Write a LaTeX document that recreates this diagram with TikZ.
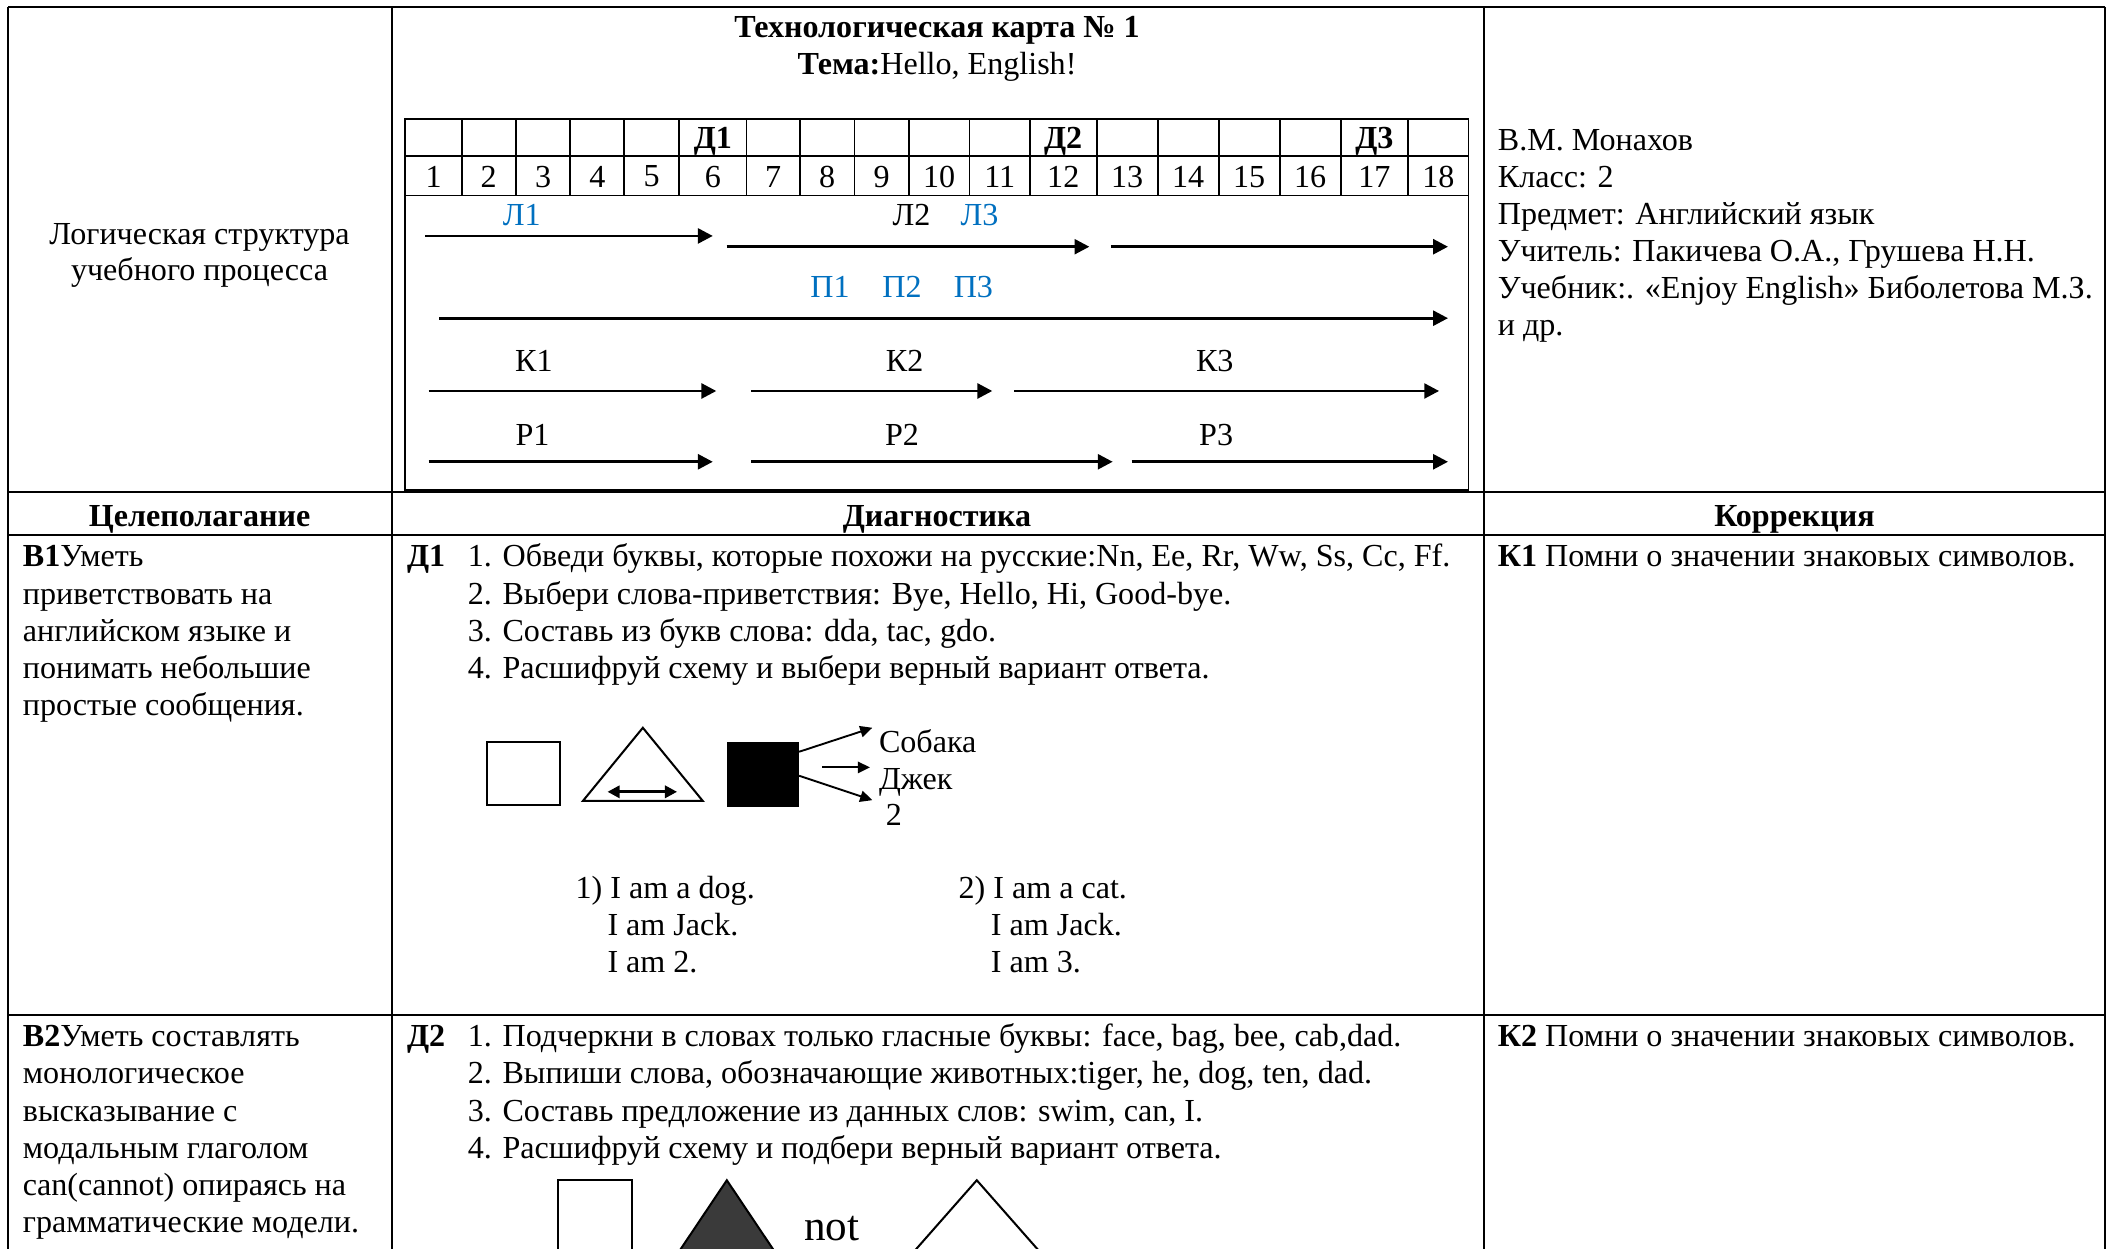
\documentclass[tikz,border=0pt]{standalone}
\usepackage{fontspec}
\setmainfont{Liberation Serif}
\usetikzlibrary{arrows.meta}
\definecolor{wblue}{HTML}{0070C0}
\definecolor{dgray}{HTML}{3A3A3A}
\begin{document}
\begin{tikzpicture}[x=0.5pt,y=-0.5pt,
  every node/.style={inner sep=0pt, outer sep=0pt},
  font=\fontsize{11.9pt}{13.75pt}\selectfont,
  rule/.style={line width=0.7pt},
  lt/.style={anchor=base west, yshift=-0.75pt},
  ct/.style={anchor=base, yshift=-0.75pt},
  cc/.style={anchor=center},
  bl/.style={cc, text=wblue},
  bf/.style={font=\fontsize{11.9pt}{13.75pt}\selectfont\bfseries},
  tarrow/.style={line width=1.05pt,-{Triangle[length=5.5pt,width=5.5pt]}},
  sarrow/.style={line width=0.7pt,-{Triangle[length=4.5pt,width=4.2pt]}},
  shp/.style={line width=0.75pt},
]
\fill[white] (0,0) rectangle (1568,926);
\begin{scope}
\clip (0,0) rectangle (1568,926);
% ---------- outer table ----------
\draw[rule] (6,5) -- (1561,5);
\draw[rule] (6,5) -- (6,940);
\draw[rule] (1561,5) -- (1561,940);
\draw[rule] (291,5) -- (291,940);
\draw[rule] (1101,5) -- (1101,940);
\draw[rule] (6,365) -- (1561,365);
\draw[rule] (6,397) -- (1561,397);
\draw[rule] (6,753) -- (1561,753);
% ---------- title ----------
\node[ct,bf] (title) at (695,26.5) {Технологическая карта № 1};
\node[ct] (theme) at (695,54) {\textbf{Тема:}Hello, English!};
% ---------- left top cell ----------
\node[ct] (ls1) at (148,180) {Логическая структура};
\node[ct] (ls2) at (148,206.5) {учебного процесса};
% ---------- right top cell ----------
\node[lt] (r1) at (1111,110) {В.М. Монахов};
\node[lt] (r2) at (1111,137.5) {Класс: 2};
\node[lt] (r3) at (1111,165) {Предмет: Английский язык};
\node[lt] (r4) at (1111,192.5) {Учитель: Пакичева О.А., Грушева Н.Н.};
\node[lt] (r5) at (1111,220) {Учебник:. «Enjoy English» Биболетова М.З.};
\node[lt] (r6) at (1111,247.5) {и др.};
% ---------- inner table ----------
\draw[rule] (300.7,88) rectangle (1089.2,363.5);
\draw[rule] (300.7,116) -- (1089.2,116);
\draw[rule] (300.7,145) -- (1089.2,145);
\foreach \xx in {342.4,382.5,423.1,463.1,503.7,553.7,593.2,633.8,673.9,719.1,763.9,813.4,858.7,903.9,949.2,994.4,1044.4}
  \draw[rule] (\xx,88) -- (\xx,145);
\foreach \a/\b/\n in {300.7/342.4/1,342.4/382.5/2,382.5/423.1/3,423.1/463.1/4,463.1/503.7/5,503.7/553.7/6,553.7/593.2/7,593.2/633.8/8,633.8/673.9/9,673.9/719.1/10,719.1/763.9/11,763.9/813.4/12,813.4/858.7/13,858.7/903.9/14,903.9/949.2/15,949.2/994.4/16,994.4/1044.4/17,1044.4/1089.2/18}
  \node[cc] (n\n) at ({(\a+\b)/2},131) {\n};
\node[ct,bf] (d1) at (528.7,109) {Д1};
\node[ct,bf] (d2) at (788.6,109) {Д2};
\node[ct,bf] (d3) at (1019.4,109) {Д3};
% ---------- timeline labels ----------
\node[bl] (l1) at (387,159.5) {Л1};
\node[cc] (l2) at (676,159.5) {Л2};
\node[bl] (l3) at (726.5,159.5) {Л3};
\node[bl] (p1) at (615.6,213) {П1};
\node[bl] (p2) at (669,213) {П2};
\node[bl] (p3) at (722,213) {П3};
\node[cc] (k1) at (396,268) {К1};
\node[cc] (k2) at (671,268) {К2};
\node[cc] (k3) at (901,268) {К3};
\node[cc] (r1l) at (395,322.7) {Р1};
\node[cc] (r2l) at (669,322.7) {Р2};
\node[cc] (r3l) at (902,322.7) {Р3};
% ---------- timeline arrows ----------
\coordinate (la1) at (315.3,175);  \coordinate (lb1) at (528.7,175);
\coordinate (la2) at (539,183);    \coordinate (lb2) at (808,183);
\coordinate (la3) at (824,183);    \coordinate (lb3) at (1074,183);
\coordinate (pa) at (325.7,236);   \coordinate (pb) at (1074,236);
\coordinate (ka1) at (318,290);    \coordinate (kb1) at (531.3,290);
\coordinate (ka2) at (557.3,290);  \coordinate (kb2) at (736,290);
\coordinate (ka3) at (752.4,290);  \coordinate (kb3) at (1067.4,290);
\coordinate (ra1) at (318,342.5);  \coordinate (rb1) at (528.7,342.5);
\coordinate (ra2) at (557.3,342.5);\coordinate (rb2) at (825.3,342.5);
\coordinate (ra3) at (839.4,342.5);\coordinate (rb3) at (1074,342.5);
\draw[tarrow] (la1) -- (lb1);
\draw[tarrow] (la2) -- (lb2);
\draw[tarrow] (la3) -- (lb3);
\draw[tarrow] (pa) -- (pb);
\draw[tarrow] (ka1) -- (kb1);
\draw[tarrow] (ka2) -- (kb2);
\draw[tarrow] (ka3) -- (kb3);
\draw[tarrow] (ra1) -- (rb1);
\draw[tarrow] (ra2) -- (rb2);
\draw[tarrow] (ra3) -- (rb3);
% ---------- header row ----------
\node[ct,bf] (h1) at (148,389) {Целеполагание};
\node[ct,bf] (h2) at (695,389) {Диагностика};
\node[ct,bf] (h3) at (1331,389) {Коррекция};
% ---------- row 1 ----------
\node[lt] (a1) at (17,419) {\textbf{В1}Уметь};
\node[lt] (a2) at (17,446.5) {приветствовать на};
\node[lt] (a3) at (17,474) {английском языке и};
\node[lt] (a4) at (17,501.5) {понимать небольшие};
\node[lt] (a5) at (17,529) {простые сообщения.};
\node[lt] (dd1) at (302,419) {\textbf{Д1}};
\node[lt] (q1) at (347,419) {1. Обведи буквы, которые похожи на русские:Nn, Ee, Rr, Ww, Ss, Cc, Ff.};
\node[lt] (q2) at (347,446.5) {2. Выбери слова-приветствия: Bye, Hello, Hi, Good-bye.};
\node[lt] (q3) at (347,474) {3. Составь из букв слова: dda, tac, gdo.};
\node[lt] (q4) at (347,501.5) {4. Расшифруй схему и выбери верный вариант ответа.};
\node[lt] (kk1) at (1111,419) {\textbf{К1} Помни о значении знаковых символов.};
% diagram 1
\draw[shp] (361.2,550.2) rectangle (415.1,597.2);
\draw[shp] (476.8,539.8) -- (432.4,594) -- (521.2,594) -- cycle;
\coordinate (dl) at (450.6,587.3); \coordinate (dr) at (502.2,587.3);
\draw[line width=1.1pt,{Triangle[length=4.5pt,width=4.5pt]}-{Triangle[length=4.5pt,width=4.5pt]}] (dl) -- (dr);
\node[fill=black, minimum width=26.7pt, minimum height=24.3pt, anchor=north west] (bsq) at (539.3,550.2) {};
\node[lt] (sob) at (652,556.5) {Собака};
\node[lt] (jek) at (652,584) {Джек};
\node[ct] (two) at (663,610.5) {2};
\coordinate (e1) at (647,539.8);
\coordinate (s2) at (609.9,569.2); \coordinate (e2) at (645.3,569.2);
\coordinate (e3) at (647,593.5);
\draw[sarrow] (bsq.north east |- 0,557.6) -- (e1);
\draw[sarrow] (s2) -- (e2);
\draw[sarrow] (bsq.north east |- 0,575.4) -- (e3);
\node[lt] (o11) at (427,665) {1) I am a dog.};
\node[lt] (o12) at (450.6,692.5) {I am Jack.};
\node[lt] (o13) at (450.6,720) {I am 2.};
\node[lt] (o21) at (711,665) {2) I am a cat.};
\node[lt] (o22) at (735,692.5) {I am Jack.};
\node[lt] (o23) at (735,720) {I am 3.};
% ---------- row 2 ----------
\node[lt] (b1) at (17,775) {\textbf{В2}Уметь составлять};
\node[lt] (b2) at (17,802.5) {монологическое};
\node[lt] (b3) at (17,830) {высказывание с};
\node[lt] (b4) at (17,857.5) {модальным глаголом};
\node[lt] (b5) at (17,885) {can(cannot) опираясь на};
\node[lt] (b6) at (17,912.5) {грамматические модели.};
\node[lt] (dd2) at (302,775) {\textbf{Д2}};
\node[lt] (w1) at (347,775) {1. Подчеркни в словах только гласные буквы: face, bag, bee, cab,dad.};
\node[lt] (w2) at (347,802.5) {2. Выпиши слова, обозначающие животных:tiger, he, dog, ten, dad.};
\node[lt] (w3) at (347,830) {3. Составь предложение из данных слов: swim, can, I.};
\node[lt] (w4) at (347,857.5) {4. Расшифруй схему и подбери верный вариант ответа.};
\node[lt] (kk2) at (1111,775) {\textbf{К2} Помни о значении знаковых символов.};
% diagram 2
\draw[shp] (414.2,960) -- (414.2,875.4) -- (468.8,875.4) -- (468.8,960);
\fill[dgray] (539.1,875.4) -- (595.8,960) -- (482.4,960) -- cycle;
\draw[shp] (539.1,875.4) -- (595.8,960) -- (482.4,960) -- cycle;
\node[cc,font=\fontsize{16pt}{18pt}\selectfont] (nt) at (617,911) {not};
\draw[shp] (650,960) -- (724.5,875.4) -- (799,960);
\end{scope}
\pgfresetboundingbox
\path[use as bounding box] (0,0) rectangle (1568,926);
\end{tikzpicture}
\end{document}
